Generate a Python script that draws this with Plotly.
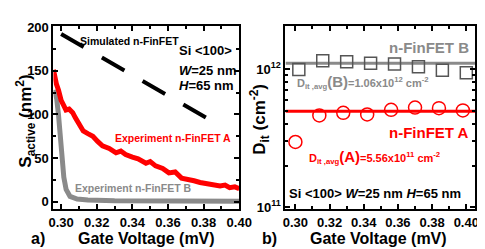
import plotly.graph_objects as go

# ---- Panel a) data ----
sim_v = [0.300, 0.3876]
sim_s = [192, 89]

expA_v = [0.2957, 0.2965, 0.2973, 0.2985, 0.300, 0.3015, 0.3027, 0.3045, 0.3065, 0.308,
          0.3092, 0.311, 0.3124, 0.315, 0.3178, 0.3205, 0.3232, 0.327, 0.3308, 0.3335,
          0.3362, 0.340, 0.3432, 0.3476, 0.350, 0.353, 0.357, 0.3605, 0.364, 0.3676,
          0.371, 0.3746, 0.378, 0.3822, 0.386, 0.3892, 0.392, 0.3946, 0.3975, 0.400]
expA_s = [151, 142, 135, 128, 116, 110, 105, 106, 102, 96,
          92, 88, 81, 78, 75, 69, 64, 61, 56, 58,
          54, 51, 49, 44, 46, 41, 38, 33, 34, 27,
          26, 24, 22, 21, 20, 18, 19, 16, 17, 15]

expB_v = [0.2962, 0.2975, 0.2985, 0.2995, 0.3005, 0.3015, 0.3028, 0.305, 0.309, 0.315,
          0.330, 0.360, 0.400]
expB_s = [128, 118, 100, 75, 50, 28, 14, 6, 3, 2, 1, 0.5, 0.5]

# ---- Panel b) data ----
dA_v = [0.300, 0.314, 0.328, 0.342, 0.356, 0.370, 0.384, 0.398]
dA = [2.97e11, 4.62e11, 4.82e11, 4.69e11, 5.07e11, 5.26e11, 5.21e11, 5.02e11]
dB_v = [0.302, 0.316, 0.330, 0.344, 0.358, 0.372, 0.386, 0.400]
dB = [0.99e12, 1.147e12, 1.13e12, 1.10e12, 1.087e12, 1.04e12, 0.98e12, 0.94e12]
avgA = 4.95e11
avgB = 1.1e12
line_v = [0.2942, 0.4052]

FONT = "Liberation Sans, Arial, sans-serif"
RED = "#ff0000"
GRAY = "#8a8a8a"
W, H = 485, 249

def px(x):
    return x / W

def py(y):
    return 1 - y / H

fig = go.Figure()
fig.add_trace(go.Scatter(x=sim_v, y=sim_s, mode="lines",
                         line=dict(color="black", width=4, dash="26px,21px"),
                         xaxis="x", yaxis="y"))
fig.add_trace(go.Scatter(x=expB_v, y=expB_s, mode="lines",
                         line=dict(color=GRAY, width=5), xaxis="x", yaxis="y"))
fig.add_trace(go.Scatter(x=expA_v, y=expA_s, mode="lines",
                         line=dict(color=RED, width=5), xaxis="x", yaxis="y"))

fig.add_trace(go.Scatter(x=line_v, y=[avgB, avgB], mode="lines",
                         line=dict(color=GRAY, width=3), xaxis="x2", yaxis="y2"))
fig.add_trace(go.Scatter(x=line_v, y=[avgA, avgA], mode="lines",
                         line=dict(color=RED, width=3), xaxis="x2", yaxis="y2"))
fig.add_trace(go.Scatter(x=dB_v, y=dB, mode="markers",
                         marker=dict(symbol="square-open", size=12, color="#555555",
                                     line=dict(width=1.5)),
                         xaxis="x2", yaxis="y2"))
fig.add_trace(go.Scatter(x=dA_v, y=dA, mode="markers",
                         marker=dict(symbol="circle-open", size=13, color=RED,
                                     line=dict(width=1.5)),
                         xaxis="x2", yaxis="y2"))

tickfont = dict(family=FONT, size=13, color="black", weight="bold")
common_x = dict(showgrid=False, zeroline=False, showline=True, linecolor="black",
                linewidth=2, mirror="ticks", ticks="inside", ticklen=5, tickwidth=1.5,
                tickcolor="black", dtick=0.02, tick0=0.30, tickformat=".2f",
                tickfont=tickfont, ticklabelstandoff=0,
                minor=dict(ticks="inside", ticklen=3, dtick=0.01, tickcolor="black",
                           tickwidth=1.5))

fig.update_layout(
    width=W, height=H, margin=dict(l=0, r=0, t=0, b=0),
    paper_bgcolor="white", plot_bgcolor="white", showlegend=False,
    xaxis=dict(domain=[px(42), px(235)], range=[0.29568, 0.400], anchor="y", **common_x),
    yaxis=dict(domain=[py(205), py(12)], range=[-8.7, 200.8], anchor="x",
               showgrid=False, zeroline=False, showline=True, linecolor="black",
               linewidth=2, mirror="ticks", ticks="inside", ticklen=5, tickwidth=1.5,
               tickcolor="black", tickvals=[0, 50, 100, 150, 200], tickfont=tickfont,
               minor=dict(ticks="inside", ticklen=3, tickvals=[25, 75, 125, 175],
                          tickcolor="black", tickwidth=1.5)),
    xaxis2=dict(domain=[px(283), px(480)], range=[0.2942, 0.4052], anchor="y2", **common_x),
    yaxis2=dict(domain=[py(205), py(12)], type="log", range=[10.986, 12.308], anchor="x2",
                showgrid=False, zeroline=False, showline=True, linecolor="black",
                linewidth=2, mirror="ticks", ticks="inside", ticklen=5, tickwidth=1.5,
                tickcolor="black", tickvals=[1e11, 1e12],
                ticktext=["10<sup>11</sup>", "10<sup>12</sup>"], tickfont=tickfont,
                minor=dict(ticks="inside", ticklen=3,
                           tickvals=[2e11, 3e11, 4e11, 5e11, 6e11, 7e11, 8e11, 9e11, 2e12],
                           tickcolor="black", tickwidth=1.5)),
)

def ann(text, x, y, size, color="black", xanchor="center", yanchor="middle", angle=0):
    fig.add_annotation(text=text, x=px(x), y=py(y), xref="paper", yref="paper",
                       showarrow=False, xanchor=xanchor, yanchor=yanchor, textangle=angle,
                       font=dict(family=FONT, size=size, color=color, weight="bold"))

# Panel a annotations
ann("Simulated n-FinFET", 67, 27, 10.5, xanchor="left")
ann("Si &lt;100&gt;", 170, 37, 13, xanchor="left")
ann("<i>W</i>=25 nm", 170, 59, 13, xanchor="left")
ann("<i>H</i>=65 nm", 170, 74, 13, xanchor="left")
ann("Experiment n-FinFET A", 104, 130, 10.5, color=RED, xanchor="left")
ann("Experiment n-FinFET B", 62, 183, 10.5, color=GRAY, xanchor="left")
ann("S<sub>active</sub> (nm<sup>2</sup>)", 13, 112, 17, angle=-90)
ann("Gate Voltage (mV)", 139, 236, 16)
ann("a)", 26, 236, 16)

# Panel b annotations
ann("n-FinFET B", 476, 34, 15, color=GRAY, xanchor="right")
ann("D<sub>it ,avg</sub><span style='font-size:15px'>(B)</span>=1.06x10<sup>12</sup> cm<sup>-2</sup>",
    293, 71, 11, color=GRAY, xanchor="left")
ann("n-FinFET A", 476, 124, 15, color=RED, xanchor="right")
ann("D<sub>it ,avg</sub><span style='font-size:15px'>(A)</span>=5.56x10<sup>11</sup> cm<sup>-2</sup>",
    305, 150, 11, color=RED, xanchor="left")
ann("Si &lt;100&gt; <i>W</i>=25 nm <i>H</i>=65 nm", 285, 188, 13, xanchor="left")
ann("D<sub>it</sub> (cm<sup>-2</sup>)", 256, 110, 17, angle=-90)
ann("Gate Voltage (mV)", 380, 236, 16)
ann("b)", 266, 236, 16)

fig.write_html("out.html")
